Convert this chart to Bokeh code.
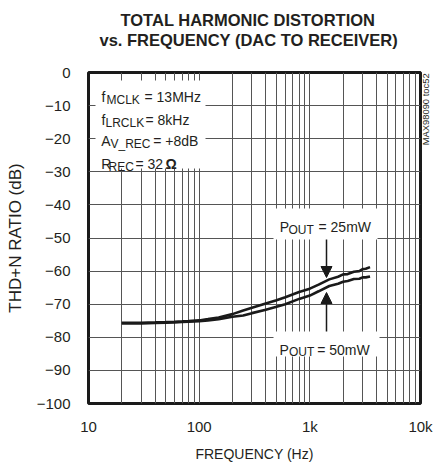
import math
from bokeh.plotting import figure
from bokeh.models import (Range1d, FixedTicker, Label, BoxAnnotation, Arrow, NormalHead,
                          Title, LinearAxis)
from bokeh.embed import file_html
from bokeh.resources import INLINE

# ---- data ----
freq_25mw = [20, 30, 40, 50, 60, 70, 80, 100, 120, 150, 200, 250, 300, 400, 500, 600,
             800, 1000, 1200, 1500, 1800, 2000, 2200, 2500, 2800, 3000, 3200, 3500]
thdn_25mw = [-75.6, -75.6, -75.5, -75.4, -75.3, -75.2, -75.1, -74.9, -74.5, -74.0, -73.0,
             -71.9, -71.1, -69.8, -68.8, -67.9, -66.3, -65.3, -64.1, -62.5, -61.7, -61.0,
             -60.9, -60.2, -60.0, -59.4, -59.3, -58.8]
freq_50mw = [20, 30, 40, 50, 60, 70, 80, 100, 120, 150, 200, 250, 300, 400, 500, 600,
             800, 1000, 1200, 1500, 1800, 2000, 2200, 2500, 2800, 3000, 3200, 3500]
thdn_50mw = [-75.8, -75.8, -75.7, -75.6, -75.5, -75.4, -75.3, -75.1, -74.9, -74.5, -73.8,
             -73.4, -72.7, -71.7, -70.8, -70.0, -68.4, -67.4, -66.1, -64.5, -63.8, -63.2,
             -63.0, -62.4, -62.3, -61.9, -61.9, -61.6]

x_major_ticks = [10, 100, 1000, 10000]
x_minor_ticks = [20, 30, 40, 50, 60, 70, 80, 90, 200, 300, 400, 500, 600, 700, 800, 900,
                 2000, 3000, 4000, 5000, 6000, 7000, 8000, 9000]
x_tick_labels = {10: "10", 100: "100", 1000: "1k", 10000: "10k"}
y_ticks = [0, -10, -20, -30, -40, -50, -60, -70, -80, -90, -100]

title_lines = ["TOTAL HARMONIC DISTORTION", "vs. FREQUENCY (DAC TO RECEIVER)"]
side_code = "MAX98090 toc52"

TXT = "#231f20"
FONT = "Liberation Sans"

p = figure(width=442, height=464, x_axis_type="log", output_backend="svg",
           toolbar_location=None, x_range=Range1d(10, 10000), y_range=Range1d(-100, 0),
           min_border_left=88, min_border_right=22, min_border_top=72, min_border_bottom=61)
p.background_fill_color = "white"
p.border_fill_color = "white"
p.outline_line_color = "#1a1a1a"
p.outline_line_width = 3
p.outline_line_alpha = 1

p.xaxis.ticker = FixedTicker(ticks=x_major_ticks, minor_ticks=x_minor_ticks)
p.yaxis.ticker = FixedTicker(ticks=y_ticks)
p.xaxis.major_label_overrides = x_tick_labels
for ax in (p.xaxis, p.yaxis):
    ax.axis_line_color = None
    ax.major_tick_line_color = None
    ax.minor_tick_line_color = None
    ax.major_tick_out = 0
    ax.minor_tick_out = 0
    ax.major_label_text_font = FONT
    ax.major_label_text_font_size = "15px"
    ax.major_label_text_color = TXT
    ax.axis_label_text_font = FONT
    ax.axis_label_text_font_style = "normal"
    ax.axis_label_text_color = TXT
p.xaxis.major_label_standoff = 14
p.xaxis.axis_label = "FREQUENCY (Hz)"
p.xaxis.axis_label_text_font_size = "14px"
p.xaxis.axis_label_standoff = 8
p.yaxis.major_label_standoff = 18
p.yaxis.axis_label = "THD+N RATIO (dB)"
p.yaxis.axis_label_text_font_size = "17px"
p.yaxis.axis_label_standoff = 9

p.xgrid.grid_line_color = "#555555"
p.xgrid.grid_line_width = 1
p.xgrid.minor_grid_line_color = "#555555"
p.xgrid.minor_grid_line_width = 1
p.ygrid.grid_line_color = "#555555"
p.ygrid.grid_line_width = 1

p.line(freq_25mw, thdn_25mw, line_color="#1a1a1a", line_width=2.6)
p.line(freq_50mw, thdn_50mw, line_color="#1a1a1a", line_width=2.6)

# title: first panel added sits nearest the frame (a blank spacer first)
p.add_layout(Title(text=" ", text_font_size="1px", standoff=21), "above")
p.add_layout(Title(text=title_lines[1], align="left", offset=11, standoff=0,
                   text_font=FONT, text_font_size="16.5px", text_font_style="bold",
                   text_color=TXT), "above")
p.add_layout(Title(text=title_lines[0], align="left", offset=32, standoff=0,
                   text_font=FONT, text_font_size="16.5px", text_font_style="bold",
                   text_color=TXT), "above")

# side code as a rotated label of an unticked right axis
SIDE_AT = -22
side_ax = LinearAxis(ticker=FixedTicker(ticks=[SIDE_AT]),
                     major_label_overrides={SIDE_AT: side_code},
                     major_label_orientation=math.pi / 2,
                     major_label_text_font=FONT, major_label_text_font_size="9.4px",
                     major_label_text_color=TXT, major_label_standoff=5,
                     axis_line_color=None, major_tick_line_color=None,
                     minor_tick_line_color=None, major_tick_out=0, minor_tick_out=0)
p.add_layout(side_ax, "right")

# helpers converting reference pixel positions (annotations only)
X0, DEC, Y0, PDB = 88.0, 332 / 3, 72.0, 3.31
def fx(px):
    return 10 ** (1 + (px - X0) / DEC)
def fy(py):
    return -(py - Y0) / PDB

# white boxes behind the annotation texts
for (l, r, t, b) in [(95, 205, 80, 168), (273, 377, 208, 239), (273, 379, 331, 356)]:
    p.add_layout(BoxAnnotation(left=fx(l), right=fx(r), top=fy(t), bottom=fy(b),
                               fill_color="white", fill_alpha=1, line_color=None,
                               level="annotation"))

def lab(text, xo, yo, size, bold=False, x=10, y=0, **kw):
    p.add_layout(Label(x=x, y=y, x_offset=xo, y_offset=yo, text=text,
                       text_font=FONT, text_font_size=f"{size}px", text_color=TXT,
                       text_font_style="bold" if bold else "normal",
                       text_baseline="alphabetic", **kw))

MAIN, SUB = 14, 12
# condition block
lab("f", 13.0, -24.7, MAIN); lab("MCLK", 18.0, -27.5, SUB); lab("= 13MHz", 56.0, -24.7, MAIN)
lab("f", 13.0, -47.3, MAIN); lab("LRCLK", 17.0, -50.5, SUB); lab("= 8kHz", 57.0, -47.3, MAIN)
lab("A", 12.7, -68.0, MAIN); lab("V_REC", 22.0, -71.3, SUB); lab("= +8dB", 64.7, -68.0, MAIN)
lab("R", 12.7, -91.3, MAIN); lab("REC", 20.0, -94.0, SUB); lab("= 32", 47.0, -91.3, MAIN)
lab("\u03a9", 77.0, -91.3, MAIN, bold=True)

# POUT callouts
lab("P", 191.3, -154.7, MAIN); lab("OUT", 200.0, -157.3, SUB); lab("= 25mW", 230.0, -154.7, MAIN)
lab("P", 191.0, -277.3, MAIN); lab("OUT", 200.5, -279.5, SUB); lab("= 50mW", 228.7, -277.3, MAIN)

arrow_freq = fx(326)
p.add_layout(Arrow(x_start=arrow_freq, y_start=fy(239), x_end=arrow_freq, y_end=fy(277),
                   line_width=1.5, line_color="#1a1a1a",
                   end=NormalHead(size=11, fill_color="#1a1a1a", line_color="#1a1a1a")))
p.add_layout(Arrow(x_start=arrow_freq, y_start=fy(331), x_end=arrow_freq, y_end=fy(292),
                   line_width=1.5, line_color="#1a1a1a",
                   end=NormalHead(size=11, fill_color="#1a1a1a", line_color="#1a1a1a")))

open("out.html", "w").write(file_html(p, INLINE))
